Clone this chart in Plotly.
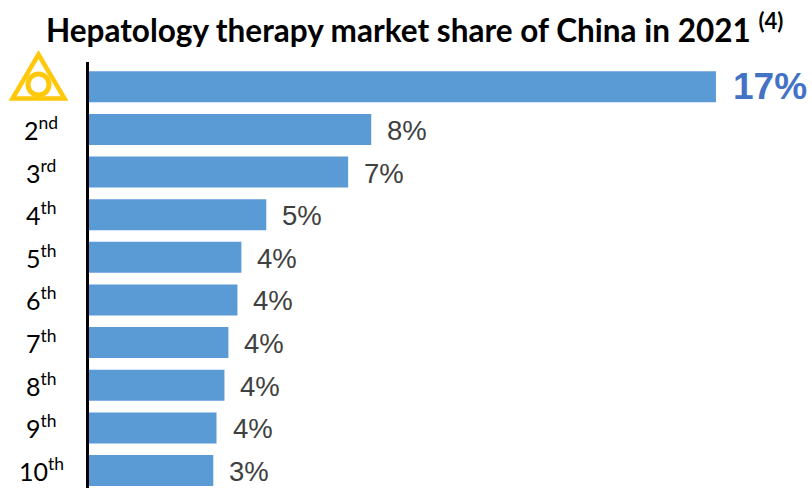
import plotly.graph_objects as go

# Hepatology therapy market share, China 2021 (percent, ranked)
ranks = ["1st", "2nd", "3rd", "4th", "5th", "6th", "7th", "8th", "9th", "10th"]
rank_labels = ["", "2<sup>nd</sup>", "3<sup>rd</sup>", "4<sup>th</sup>", "5<sup>th</sup>",
               "6<sup>th</sup>", "7<sup>th</sup>", "8<sup>th</sup>", "9<sup>th</sup>", "10<sup>th</sup>"]
shares = [17.4, 7.84, 7.2, 4.93, 4.24, 4.13, 3.88, 3.77, 3.55, 3.46]
title_text = "<b>Hepatology therapy market share of China in 2021 <sup>(4)</sup></b>"

W, H = 812, 488
BLUE = "#5B9BD5"
GOLD = "#FFC80A"
SANS = "Liberation Sans"
BODY = "Lato"
AXIS_LEFT = 88.5
PX_PER_POINT = 36.06


def px(x):
    return x / W


def py(y):
    return 1 - y / H


fig = go.Figure(go.Bar(
    x=shares,
    y=ranks,
    orientation="h",
    width=0.727,
    marker=dict(color=BLUE, line=dict(width=0)),
    hoverinfo="skip",
))

annotations = []
for i, (rank, share, label) in enumerate(zip(ranks, shares, rank_labels)):
    # value label just past the bar end; the leader is emphasised
    lead = i == 0
    annotations.append(dict(
        x=share, y=rank, xref="x", yref="y",
        text=f"<b>{round(share)}%</b>" if lead else f"{round(share)}%",
        showarrow=False, xanchor="left", yanchor="middle",
        xshift=15 if lead else 14, yshift=0 if lead else -1,
        font=dict(family=SANS, size=37 if lead else 27.5,
                  color="#4472C4" if lead else "#404040"),
    ))
    if label:
        annotations.append(dict(
            x=px(41), y=rank, xref="paper", yref="y",
            text=label, showarrow=False, xanchor="center", yanchor="middle",
            yshift=1,
            font=dict(family=BODY, size=25, color="#000000"),
        ))

annotations.append(dict(
    x=px(414), y=py(28), xref="paper", yref="paper",
    text=title_text, showarrow=False, xanchor="center", yanchor="middle",
    font=dict(family=BODY, size=31.5, color="#000000"),
))

# triangle-and-ring emblem in place of the first rank
triangle = (f"M {px(38.5)} {py(54.5)} L {px(12.5)} {py(98.5)} "
            f"L {px(64.5)} {py(98.5)} Z")
shapes = [
    dict(type="path", xref="paper", yref="paper", path=triangle,
         line=dict(color=GOLD, width=4.5), fillcolor="rgba(0,0,0,0)"),
    dict(type="circle", xref="paper", yref="paper",
         x0=px(28), x1=px(49), y0=py(95), y1=py(74),
         line=dict(color=GOLD, width=5), fillcolor="rgba(0,0,0,0)"),
]

fig.update_layout(
    width=W, height=H,
    margin=dict(l=0, r=0, t=0, b=0),
    paper_bgcolor="white",
    plot_bgcolor="white",
    showlegend=False,
    annotations=annotations,
    shapes=shapes,
    xaxis=dict(domain=[px(AXIS_LEFT), 1], range=[0, (W - AXIS_LEFT) / PX_PER_POINT],
               visible=False, fixedrange=True),
    yaxis=dict(domain=[py(488), py(62)], range=[9.41, -0.582],
               type="category", categoryorder="array", categoryarray=ranks,
               showticklabels=False, ticks="", showgrid=False,
               showline=True, linecolor="#000000", linewidth=3,
               zeroline=False, fixedrange=True),
)

fig.write_html("out.html", config={"displayModeBar": False})
